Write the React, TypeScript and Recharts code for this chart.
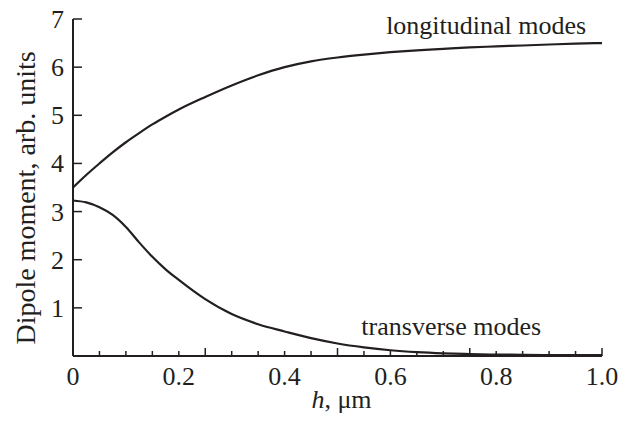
import { LineChart, Line, XAxis, YAxis, ReferenceDot } from 'recharts';

// thickness h, um
const hValues = [0, 0.025, 0.05, 0.075, 0.1, 0.125, 0.15, 0.175, 0.2, 0.25, 0.3, 0.35, 0.4, 0.45, 0.5, 0.55, 0.6, 0.65, 0.7, 0.75, 0.8, 0.85, 0.9, 0.95, 1.0];
// dipole moment, arb. units
const longitudinal = [3.5, 3.76, 4.0, 4.23, 4.44, 4.63, 4.81, 4.97, 5.12, 5.38, 5.62, 5.83, 6.0, 6.12, 6.2, 6.26, 6.31, 6.35, 6.38, 6.41, 6.43, 6.45, 6.47, 6.49, 6.5];
const transverse = [3.23, 3.19, 3.09, 2.93, 2.68, 2.36, 2.06, 1.8, 1.58, 1.18, 0.87, 0.66, 0.51, 0.37, 0.26, 0.18, 0.12, 0.08, 0.055, 0.04, 0.03, 0.025, 0.02, 0.02, 0.02];

const xTicks = [0, 0.05, 0.1, 0.15, 0.2, 0.25, 0.3, 0.35, 0.4, 0.45, 0.5, 0.55, 0.6, 0.65, 0.7, 0.75, 0.8, 0.85, 0.9, 0.95, 1.0];
const xLabelTicks = [0, 0.2, 0.4, 0.6, 0.8, 1.0];
const xMajorTicks = [0.25, 0.5, 0.75, 1.0];
const yTicks = [1, 2, 3, 4, 5, 6, 7];

const seriesLabels = [
  { text: 'longitudinal modes', h: 0.781, v: 6.89 },
  { text: 'transverse modes', h: 0.715, v: 0.63 },
];

const data = hValues.map((h, i) => ({ h, longitudinal: longitudinal[i], transverse: transverse[i] }));

const INK = '#231f20';
const FONT = 'Liberation Serif, Times New Roman, serif';
const FS = 26;

const has = (list: number[], v: number) => list.some((t) => Math.abs(t - v) < 1e-6);

function XTick({ x, y, payload }: any) {
  const v = payload.value;
  const len = has(xMajorTicks, v) ? 8 : 5;
  return (
    <g>
      {v > 0 && <line x1={x} x2={x} y1={y} y2={y - len} stroke={INK} strokeWidth={1.5} />}
      {has(xLabelTicks, v) && (
        <text x={x} y={y + 29} textAnchor="middle" fill={INK} style={{ fontSize: FS, fontFamily: FONT }}>
          {v === 0 ? '0' : v.toFixed(1)}
        </text>
      )}
    </g>
  );
}

function YTick({ x, y, payload }: any) {
  return (
    <g>
      <line x1={x} x2={x + 9} y1={y} y2={y} stroke={INK} strokeWidth={1.5} />
      <text x={x - 9} y={y + 9} textAnchor="end" fill={INK} style={{ fontSize: FS, fontFamily: FONT }}>
        {payload.value}
      </text>
    </g>
  );
}

export default function App() {
  return (
    <div style={{ position: 'absolute', left: 0, top: 0, background: '#fff', fontFamily: FONT }}>
      <LineChart width={630} height={430} data={data} margin={{ top: 19, right: 28, left: 0, bottom: 4 }}>
        <XAxis
          dataKey="h"
          type="number"
          domain={[0, 1]}
          ticks={xTicks}
          interval={0}
          tickSize={0}
          tickMargin={0}
          tick={<XTick />}
          height={70}
          axisLine={{ stroke: INK, strokeWidth: 2 }}
          label={{
            content: ({ viewBox }: any) => (
              <text
                x={viewBox.x + viewBox.width / 2 + 4}
                y={viewBox.y + 52}
                textAnchor="middle"
                fill={INK}
                style={{ fontSize: FS, fontFamily: FONT }}
              >
                <tspan fontStyle="italic">h</tspan>, μm
              </text>
            ),
          }}
        />
        <YAxis
          type="number"
          domain={[0, 7]}
          ticks={yTicks}
          interval={0}
          tickSize={0}
          tickMargin={0}
          tick={<YTick />}
          width={73}
          axisLine={{ stroke: INK, strokeWidth: 2 }}
          label={{
            content: () => (
              <text
                x={35}
                y={198}
                transform="rotate(-90 35 198)"
                textAnchor="middle"
                fill={INK}
                style={{ fontSize: 28, fontFamily: FONT }}
              >
                Dipole moment, arb. units
              </text>
            ),
          }}
        />
        <Line type="monotone" dataKey="longitudinal" stroke={INK} strokeWidth={2.2} dot={false} isAnimationActive={false} />
        <Line type="monotone" dataKey="transverse" stroke={INK} strokeWidth={2.2} dot={false} isAnimationActive={false} />
        {seriesLabels.map((l) => (
          <ReferenceDot
            key={l.text}
            x={l.h}
            y={l.v}
            r={0}
            fill="none"
            stroke="none"
            label={{ value: l.text, position: 'center', fill: INK, style: { fontSize: FS, fontFamily: FONT } }}
          />
        ))}
      </LineChart>
    </div>
  );
}
